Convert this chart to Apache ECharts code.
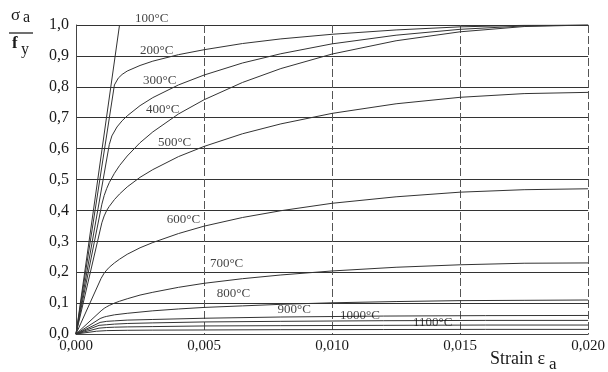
<!DOCTYPE html>
<html>
<head>
<meta charset="utf-8">
<script src="https://cdn.jsdelivr.net/npm/echarts@6/dist/echarts.min.js"></script>
<style>
html,body{margin:0;padding:0;background:#fff;}
#c{width:608px;height:372px;}
</style>
</head>
<body>
<div id="c"></div>
<script>
// Tick values
const xTicks = [0, 0.005, 0.010, 0.015, 0.020];
const yTicks = [0, 0.1, 0.2, 0.3, 0.4, 0.5, 0.6, 0.7, 0.8, 0.9, 1.0];

// Curves: [strain, sigma_a / f_y]
const t100 = [[0,0],[0.0017,1.0]];
const t200 = [[0,0],[0.0015,0.806],[0.00165,0.828],[0.0018,0.840],[0.002,0.851],[0.0025,0.869],[0.003,0.883],[0.004,0.904],[0.005,0.920],[0.0065,0.940],[0.008,0.955],[0.010,0.970],[0.0125,0.984],[0.015,0.994],[0.0175,0.999],[0.020,1.0]];
const t300 = [[0,0],[0.0013,0.613],[0.0014,0.641],[0.0016,0.670],[0.0018,0.690],[0.002,0.706],[0.0025,0.739],[0.003,0.765],[0.004,0.806],[0.005,0.838],[0.0065,0.877],[0.008,0.907],[0.010,0.939],[0.0125,0.967],[0.015,0.986],[0.0175,0.997],[0.020,1.0]];
const t400 = [[0,0],[0.00101,0.420],[0.0011,0.448],[0.0012,0.471],[0.0013,0.490],[0.0015,0.520],[0.0017,0.545],[0.002,0.576],[0.0025,0.619],[0.003,0.654],[0.004,0.712],[0.005,0.758],[0.0065,0.814],[0.008,0.859],[0.010,0.906],[0.0125,0.949],[0.015,0.978],[0.0175,0.995],[0.020,1.0]];
const t500 = [[0,0],[0.00101,0.360],[0.0011,0.382],[0.0012,0.400],[0.0013,0.413],[0.0015,0.435],[0.0017,0.453],[0.002,0.476],[0.0025,0.507],[0.003,0.532],[0.004,0.574],[0.005,0.607],[0.0065,0.648],[0.008,0.680],[0.010,0.714],[0.0125,0.745],[0.015,0.766],[0.0175,0.778],[0.020,0.782]];
const t600 = [[0,0],[0.00098,0.180],[0.0011,0.197],[0.0012,0.207],[0.0013,0.216],[0.0015,0.230],[0.0017,0.242],[0.002,0.258],[0.0025,0.279],[0.003,0.296],[0.004,0.325],[0.005,0.349],[0.0065,0.377],[0.008,0.399],[0.010,0.423],[0.0125,0.444],[0.015,0.459],[0.0175,0.467],[0.020,0.470]];
const t700 = [[0,0],[0.00098,0.075],[0.0011,0.083],[0.0012,0.088],[0.0013,0.0925],[0.0015,0.100],[0.0017,0.106],[0.002,0.114],[0.0025,0.126],[0.003,0.135],[0.004,0.151],[0.005,0.164],[0.0065,0.179],[0.008,0.191],[0.010,0.204],[0.0125,0.216],[0.015,0.224],[0.0175,0.229],[0.020,0.230]];
const t800 = [[0,0],[0.00094,0.050],[0.0011,0.055],[0.0012,0.057],[0.0015,0.062],[0.002,0.067],[0.003,0.075],[0.004,0.081],[0.005,0.086],[0.0065,0.091],[0.008,0.096],[0.010,0.101],[0.0125,0.105],[0.015,0.108],[0.0175,0.109],[0.020,0.110]];
const t900 = [[0,0],[0.00094,0.0375],[0.0012,0.041],[0.0015,0.0425],[0.002,0.045],[0.003,0.047],[0.005,0.051],[0.008,0.055],[0.012,0.058],[0.016,0.0595],[0.020,0.060]];
const t1000 = [[0,0],[0.0009,0.028],[0.0012,0.030],[0.0015,0.032],[0.002,0.034],[0.003,0.036],[0.005,0.039],[0.008,0.041],[0.012,0.043],[0.016,0.044],[0.020,0.044]];
const t1100 = [[0,0],[0.0009,0.019],[0.0012,0.021],[0.0015,0.022],[0.002,0.023],[0.003,0.024],[0.005,0.026],[0.008,0.027],[0.012,0.028],[0.016,0.029],[0.020,0.029]];
const t1200 = [[0,0],[0.0008,0.009],[0.0012,0.011],[0.002,0.012],[0.003,0.0125],[0.005,0.013],[0.008,0.014],[0.012,0.0145],[0.016,0.015],[0.020,0.015]];

const curves = [t100,t200,t300,t400,t500,t600,t700,t800,t900,t1000,t1100,t1200];

// Curve labels and their positions (strain, ratio)
const labelText = ['100°C','200°C','300°C','400°C','500°C','600°C','700°C','800°C','900°C','1000°C','1100°C'];
const labelPos = [[0.00296,1.020],[0.00315,0.917],[0.00327,0.820],[0.00339,0.726],[0.00385,0.620],[0.0042,0.371],[0.00588,0.228],[0.00615,0.130],[0.00852,0.080],[0.01109,0.061],[0.01393,0.037]];

const serif = '"Liberation Serif","DejaVu Serif",serif';
const chart = echarts.init(document.getElementById('c'));

const series = curves.map(function(d){
  return {type:'line', data:d, showSymbol:false, smooth:false,
    lineStyle:{color:'#333', width:1}, silent:true, z:3};
});
series.push({
  type:'scatter', clip:false, symbolSize:1, itemStyle:{color:'rgba(0,0,0,0)'},
  data: labelPos.map(function(p,i){ return {value:p, name:labelText[i]}; }),
  label:{show:true, position:'inside', formatter:function(p){return p.name;},
    fontFamily:serif, fontSize:13, color:'#111'},
  silent:true, z:5
});

chart.setOption({
  animation:false,
  backgroundColor:'#ffffff',
  grid:{left:76, right:18, top:25, bottom:38},
  xAxis:{type:'value', min:0, max:0.02, interval:0.005,
    axisLine:{show:true, lineStyle:{color:'#444', width:1}},
    axisTick:{show:false},
    axisLabel:{fontFamily:serif, fontSize:15, color:'#1a1a1a', margin:5,
      formatter:function(v){return v.toFixed(3).replace('.',',');}},
    splitLine:{show:true, lineStyle:{color:'#555', width:1, type:[8,3]}}
  },
  yAxis:{type:'value', min:0, max:1, interval:0.1,
    axisLine:{show:true, lineStyle:{color:'#444', width:1}},
    axisTick:{show:false},
    axisLabel:{fontFamily:serif, fontSize:16, color:'#1a1a1a', margin:7,
      formatter:function(v){return v.toFixed(1).replace('.',',');}},
    splitLine:{show:true, lineStyle:{color:'#333', width:1.2}}
  },
  graphic:[
    {type:'text', left:11, top:7, style:{text:'σ', font:'17px '+serif, fill:'#1a1a1a'}},
    {type:'text', left:23, top:10, style:{text:'a', font:'16px '+serif, fill:'#1a1a1a'}},
    {type:'line', shape:{x1:9, y1:33, x2:33, y2:33}, style:{stroke:'#222', lineWidth:1.3}},
    {type:'text', left:12, top:35, style:{text:'f', font:'bold 17px '+serif, fill:'#1a1a1a'}},
    {type:'text', left:21, top:42, style:{text:'y', font:'16px '+serif, fill:'#1a1a1a'}},
    {type:'text', left:490, top:350, style:{text:'Strain ε', font:'18px '+serif, fill:'#1a1a1a'}},
    {type:'text', left:549, top:356, style:{text:'a', font:'17px '+serif, fill:'#1a1a1a'}}
  ],
  series:series
});
</script>
</body>
</html>
